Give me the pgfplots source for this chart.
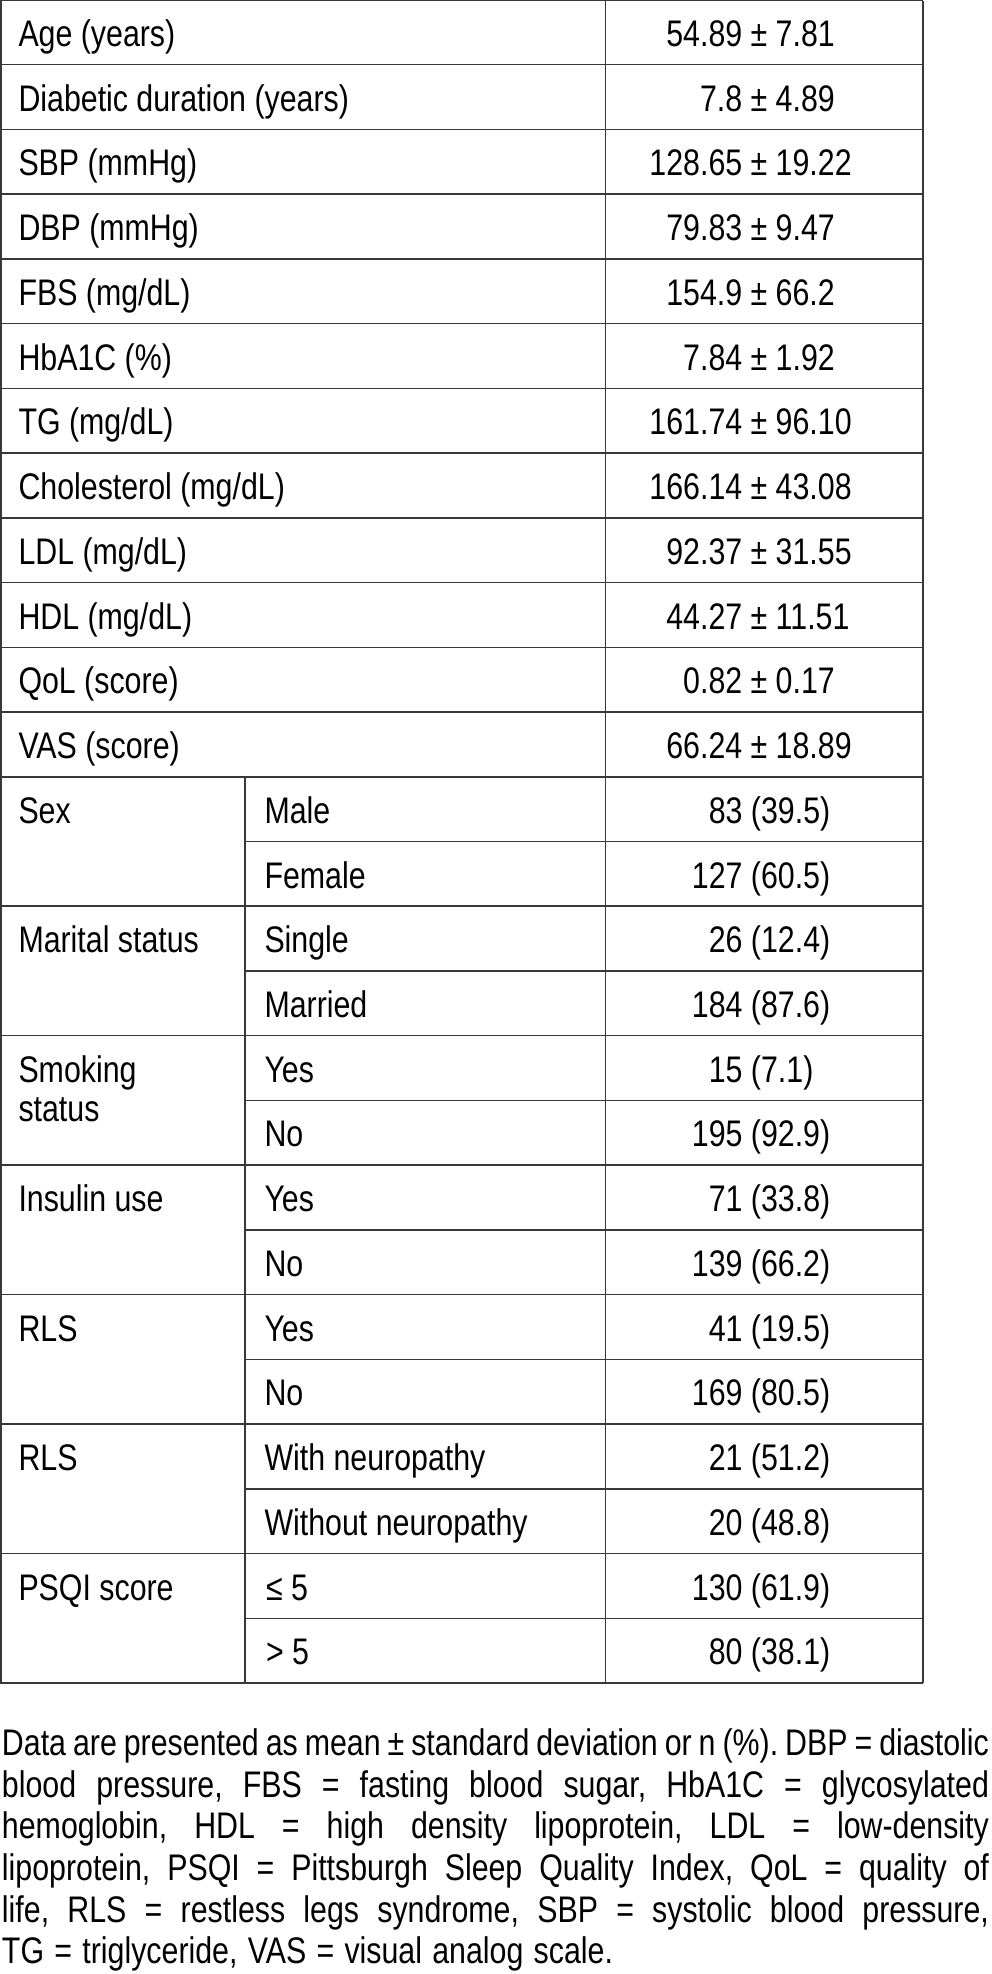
\documentclass[border=0pt]{standalone}
\usepackage{fontspec}
\setmainfont{Liberation Sans}[FakeStretch=0.82]
\usepackage{pgfplots}
\pgfplotsset{compat=1.18}
\begin{document}
\fontsize{18.5pt}{21pt}\selectfont
\frenchspacing
\begin{tikzpicture}
\begin{axis}[name=tab, x=0.5pt, y=0.5pt, xmin=0, xmax=991, ymin=0, ymax=1974,
  y dir=reverse, hide axis, clip=false, scale only axis, anchor=south west, at={(0,0)},
  ]
\pgfplotsset{tl/.style={mark=none, draw=black!78, line width=0.75pt, forget plot}}
% full-width horizontal rules
\addplot[tl] coordinates {(0,0.75) (923,0.75)};
\addplot[tl] coordinates {(0,64.73) (923,64.73)};
\addplot[tl] coordinates {(0,129.46) (923,129.46)};
\addplot[tl] coordinates {(0,194.19) (923,194.19)};
\addplot[tl] coordinates {(0,258.92) (923,258.92)};
\addplot[tl] coordinates {(0,323.65) (923,323.65)};
\addplot[tl] coordinates {(0,388.38) (923,388.38)};
\addplot[tl] coordinates {(0,453.11) (923,453.11)};
\addplot[tl] coordinates {(0,517.84) (923,517.84)};
\addplot[tl] coordinates {(0,582.57) (923,582.57)};
\addplot[tl] coordinates {(0,647.30) (923,647.30)};
\addplot[tl] coordinates {(0,712.03) (923,712.03)};
\addplot[tl] coordinates {(0,776.76) (923,776.76)};
\addplot[tl] coordinates {(0,906.22) (923,906.22)};
\addplot[tl] coordinates {(0,1035.68) (923,1035.68)};
\addplot[tl] coordinates {(0,1165.14) (923,1165.14)};
\addplot[tl] coordinates {(0,1294.60) (923,1294.60)};
\addplot[tl] coordinates {(0,1424.06) (923,1424.06)};
\addplot[tl] coordinates {(0,1553.52) (923,1553.52)};
\addplot[tl] coordinates {(0,1682.98) (923,1682.98)};
% inner rules (sub-rows)
\addplot[tl] coordinates {(245,841.49) (923,841.49)};
\addplot[tl] coordinates {(245,970.95) (923,970.95)};
\addplot[tl] coordinates {(245,1100.41) (923,1100.41)};
\addplot[tl] coordinates {(245,1229.87) (923,1229.87)};
\addplot[tl] coordinates {(245,1359.33) (923,1359.33)};
\addplot[tl] coordinates {(245,1488.79) (923,1488.79)};
\addplot[tl] coordinates {(245,1618.25) (923,1618.25)};
% vertical rules
\addplot[tl] coordinates {(0.75,0.75) (0.75,1682.98)};
\addplot[tl] coordinates {(923,0.75) (923,1682.98)};
\addplot[tl] coordinates {(605.7,0.75) (605.7,1682.98)};
\addplot[tl] coordinates {(245,776.76) (245,1682.98)};

\tikzset{lab/.style={anchor=base west, inner sep=0pt, outer sep=0pt},
         pm/.style={anchor=base, inner sep=0pt, outer sep=0pt}}
% continuous variables
\node[lab] at (axis cs:18.5,46.5) {Age (years)};
\node[lab] at (axis cs:18.5,111.2) {Diabetic duration (years)};
\node[lab] at (axis cs:18.5,176.0) {SBP (mmHg)};
\node[lab] at (axis cs:18.5,240.7) {DBP (mmHg)};
\node[lab] at (axis cs:18.5,305.4) {FBS (mg/dL)};
\node[lab] at (axis cs:18.5,370.2) {HbA1C (\%)};
\node[lab] at (axis cs:18.5,434.9) {TG (mg/dL)};
\node[lab] at (axis cs:18.5,499.6) {Cholesterol (mg/dL)};
\node[lab] at (axis cs:18.5,564.3) {LDL (mg/dL)};
\node[lab] at (axis cs:18.5,629.1) {HDL (mg/dL)};
\node[lab] at (axis cs:18.5,693.8) {QoL (score)};
\node[lab] at (axis cs:18.5,758.5) {VAS (score)};

\node[pm] at (axis cs:759,46.5) {\llap{54.89 }±\rlap{ 7.81}};
\node[pm] at (axis cs:759,111.2) {\llap{7.8 }±\rlap{ 4.89}};
\node[pm] at (axis cs:759,176.0) {\llap{128.65 }±\rlap{ 19.22}};
\node[pm] at (axis cs:759,240.7) {\llap{79.83 }±\rlap{ 9.47}};
\node[pm] at (axis cs:759,305.4) {\llap{154.9 }±\rlap{ 66.2}};
\node[pm] at (axis cs:759,370.2) {\llap{7.84 }±\rlap{ 1.92}};
\node[pm] at (axis cs:759,434.9) {\llap{161.74 }±\rlap{ 96.10}};
\node[pm] at (axis cs:759,499.6) {\llap{166.14 }±\rlap{ 43.08}};
\node[pm] at (axis cs:759,564.3) {\llap{92.37 }±\rlap{ 31.55}};
\node[pm] at (axis cs:759,629.1) {\llap{44.27 }±\rlap{ 11.51}};
\node[pm] at (axis cs:759,693.8) {\llap{0.82 }±\rlap{ 0.17}};
\node[pm] at (axis cs:759,758.5) {\llap{66.24 }±\rlap{ 18.89}};

% categorical variables
\node[lab] at (axis cs:18.5,823.3) {Sex};
\node[lab] at (axis cs:18.5,952.7) {Marital status};
\node[lab] at (axis cs:18.5,1082.2) {Smoking};
\node[lab] at (axis cs:18.5,1121.2) {status};
\node[lab] at (axis cs:18.5,1211.6) {Insulin use};
\node[lab] at (axis cs:18.5,1341.1) {RLS};
\node[lab] at (axis cs:18.5,1470.6) {RLS};
\node[lab] at (axis cs:18.5,1600.0) {PSQI score};

\node[lab] at (axis cs:264.5,823.3) {Male};
\node[lab] at (axis cs:264.5,888.0) {Female};
\node[lab] at (axis cs:264.5,952.7) {Single};
\node[lab] at (axis cs:264.5,1017.5) {Married};
\node[lab] at (axis cs:264.5,1082.2) {Yes};
\node[lab] at (axis cs:264.5,1146.9) {No};
\node[lab] at (axis cs:264.5,1211.6) {Yes};
\node[lab] at (axis cs:264.5,1276.4) {No};
\node[lab] at (axis cs:264.5,1341.1) {Yes};
\node[lab] at (axis cs:264.5,1405.8) {No};
\node[lab] at (axis cs:264.5,1470.6) {With neuropathy};
\node[lab] at (axis cs:264.5,1535.3) {Without neuropathy};
\node[lab] at (axis cs:266,1600.0) {≤ 5};
\node[lab] at (axis cs:266,1664.8) {> 5};

\node[lab] at (axis cs:751,823.3) {\llap{83 }(39.5)};
\node[lab] at (axis cs:751,888.0) {\llap{127 }(60.5)};
\node[lab] at (axis cs:751,952.7) {\llap{26 }(12.4)};
\node[lab] at (axis cs:751,1017.5) {\llap{184 }(87.6)};
\node[lab] at (axis cs:751,1082.2) {\llap{15 }(7.1)};
\node[lab] at (axis cs:751,1146.9) {\llap{195 }(92.9)};
\node[lab] at (axis cs:751,1211.6) {\llap{71 }(33.8)};
\node[lab] at (axis cs:751,1276.4) {\llap{139 }(66.2)};
\node[lab] at (axis cs:751,1341.1) {\llap{41 }(19.5)};
\node[lab] at (axis cs:751,1405.8) {\llap{169 }(80.5)};
\node[lab] at (axis cs:751,1470.6) {\llap{21 }(51.2)};
\node[lab] at (axis cs:751,1535.3) {\llap{20 }(48.8)};
\node[lab] at (axis cs:751,1600.0) {\llap{130 }(61.9)};
\node[lab] at (axis cs:751,1664.8) {\llap{80 }(38.1)};

% footnote
\tikzset{fn/.style={anchor=base west, inner sep=0pt, outer sep=0pt,
  execute at begin node={\spaceskip=0.278em plus 1em minus 0.15em\relax}}}
\node[fn] at (axis cs:2,1755) {\makebox[493.5pt][s]{Data are presented as mean ± standard deviation or n (\%). DBP = diastolic}};
\node[fn] at (axis cs:2,1797) {\makebox[493.5pt][s]{blood pressure, FBS = fasting blood sugar, HbA1C = glycosylated}};
\node[fn] at (axis cs:2,1838) {\makebox[493.5pt][s]{hemoglobin, HDL = high density lipoprotein, LDL = low-density}};
\node[fn] at (axis cs:2,1880) {\makebox[493.5pt][s]{lipoprotein, PSQI = Pittsburgh Sleep Quality Index, QoL = quality of}};
\node[fn] at (axis cs:2,1922) {\makebox[493.5pt][s]{life, RLS = restless legs syndrome, SBP = systolic blood pressure,}};
\node[fn] at (axis cs:2,1963) {TG = triglyceride, VAS = visual analog scale.};
\end{axis}
\pgfresetboundingbox
\path (tab.south west) rectangle (tab.north east);
\end{tikzpicture}
\end{document}
